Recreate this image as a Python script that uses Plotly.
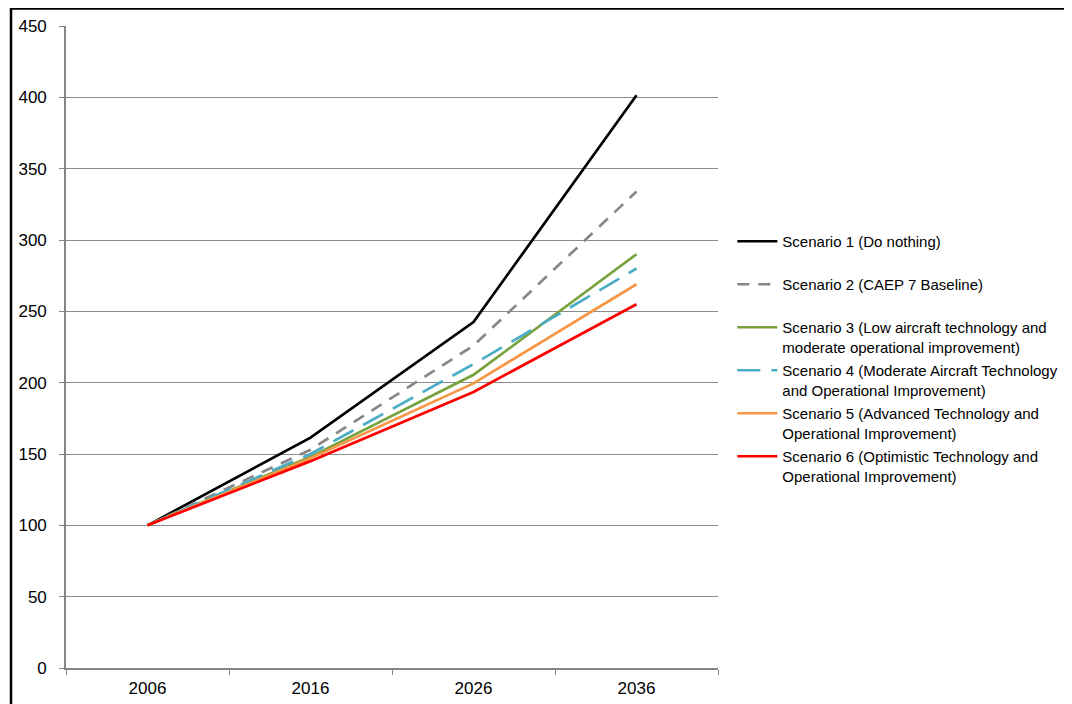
import plotly.graph_objects as go

years = ["2006", "2016", "2026", "2036"]
s1 = [100, 161.5, 242.5, 401.5]
s2 = [100, 153, 226, 334]
s3 = [100, 148, 205.5, 290]
s4 = [100, 150, 213, 280]
s5 = [100, 147, 199.5, 269]
s6 = [100, 145, 193.5, 255]

names = [
    "Scenario 1 (Do nothing)<br>\u00a0",
    "Scenario 2 (CAEP 7 Baseline)<br>\u00a0",
    "Scenario 3 (Low aircraft technology and<br>moderate operational improvement)",
    "Scenario 4 (Moderate Aircraft Technology<br>and Operational Improvement)",
    "Scenario 5 (Advanced Technology and<br>Operational Improvement)",
    "Scenario 6 (Optimistic Technology and<br>Operational Improvement)",
]
series = [s1, s2, s3, s4, s5, s6]
colors = ["#000000", "#878787", "#77A23D", "#4BACC6", "#F79646", "#FF0000"]
dashes = ["solid", "12px,9px", "solid", "23px,11px", "solid", "solid"]

fig = go.Figure()
for i, (n, s, c, d) in enumerate(zip(names, series, colors, dashes)):
    fig.add_trace(go.Scatter(
        x=years, y=s, name=n, mode="lines",
        line=dict(color=c, width=2.7, dash=d),
        legendgroup=f"g{i}",
    ))

W, H = 1064, 696
L, R, T, B = 58, 354, 18, 36
fig.update_layout(
    width=W, height=H,
    margin=dict(l=L, r=R, t=T, b=B, autoexpand=False),
    paper_bgcolor="white", plot_bgcolor="white",
    font=dict(family="Liberation Sans, Arial, sans-serif", size=15, color="#000000"),
    showlegend=True,
    legend=dict(
        x=1.022, y=0.69, xanchor="left", yanchor="top",
        tracegroupgap=1, font=dict(size=15), valign="top",
        bgcolor="rgba(0,0,0,0)", itemwidth=40,
    ),
    xaxis=dict(
        type="category", tickson="boundaries", showgrid=False,
        showline=True, linecolor="#868686", linewidth=1.6,
        ticks="outside", ticklen=5, tickcolor="#868686",
        tickfont=dict(size=17), ticklabelstandoff=4, range=[-0.5, 3.5],
    ),
    yaxis=dict(
        range=[0, 450], dtick=50, showgrid=True, gridcolor="#8c8c8c", gridwidth=1,
        showline=True, linecolor="#868686", linewidth=1.6,
        ticks="outside", ticklen=5, tickcolor="#868686",
        tickfont=dict(size=17), ticklabelstandoff=9, zeroline=False,
    ),
)

pw, ph = W - L - R, H - T - B
# outer chart border
fig.add_shape(type="rect", xref="paper", yref="paper",
              x0=(3 - L) / pw, x1=1.7, y0=-0.2, y1=(H - B - 0.5) / ph,
              line=dict(color="black", width=2.5), layer="above")

fig.write_html("out.html")
